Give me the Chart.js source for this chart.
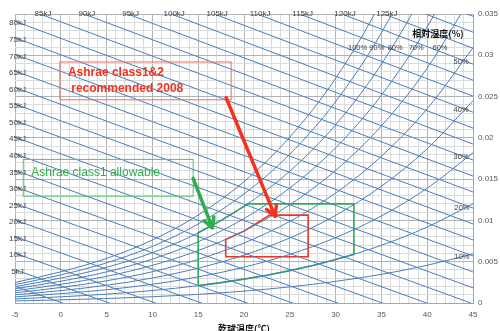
<!DOCTYPE html>
<html lang="ja">
<head>
<meta charset="UTF-8">
<title>Psychrometric chart - Ashrae envelopes</title>
<script src="https://cdn.jsdelivr.net/npm/chart.js"></script>
<style>
  html, body { margin: 0; padding: 0; background: #fff; }
</style>
</head>
<body>
<canvas id="chart" width="500" height="331"></canvas>
<script>
// dry bulb temperatures (x) where the RH curves were read
const temps = [-5, 0, 5, 10, 15, 20, 25, 30, 35, 40, 45];

// humidity ratio (kg/kg) of each relative humidity curve at those temperatures
const rh10  = [0.00025, 0.00038, 0.00054, 0.00076, 0.00105, 0.00144, 0.00195, 0.00262, 0.00347, 0.00457, 0.00595];
const rh20  = [0.00049, 0.00075, 0.00107, 0.00151, 0.00210, 0.00289, 0.00392, 0.00526, 0.00699, 0.00920, 0.01201];
const rh30  = [0.00074, 0.00113, 0.00161, 0.00227, 0.00316, 0.00434, 0.00589, 0.00792, 0.01054, 0.01390, 0.01819];
const rh40  = [0.00099, 0.00150, 0.00215, 0.00303, 0.00422, 0.00580, 0.00788, 0.01061, 0.01414, 0.01868, 0.02449];
const rh50  = [0.00124, 0.00188, 0.00269, 0.00379, 0.00528, 0.00726, 0.00988, 0.01331, 0.01777, 0.02352, 0.03091];
const rh60  = [0.00148, 0.00226, 0.00323, 0.00456, 0.00635, 0.00874, 0.01190, 0.01605, 0.02145, 0.02844, 0.03747];
const rh70  = [0.00173, 0.00264, 0.00377, 0.00532, 0.00742, 0.01022, 0.01393, 0.01880, 0.02517, 0.03344, 0.04416];
const rh80  = [0.00198, 0.00302, 0.00432, 0.00609, 0.00849, 0.01170, 0.01597, 0.02158, 0.02893, 0.03851, 0.05098];
const rh90  = [0.00223, 0.00340, 0.00486, 0.00686, 0.00957, 0.01320, 0.01802, 0.02438, 0.03273, 0.04366, 0.05795];
const rh100 = [0.00248, 0.00378, 0.00540, 0.00763, 0.01065, 0.01470, 0.02009, 0.02721, 0.03659, 0.04889, 0.06506];
const rhCurves = [rh10, rh20, rh30, rh40, rh50, rh60, rh70, rh80, rh90, rh100];

// RH labels and where they sit (temperature, humidity ratio)
const rhLabels = ['100%', '90%', '80%', '70%', '60%', '50%', '40%', '30%', '20%', '10%'];
const rhLabelT = [32.4, 34.5, 36.5, 38.8, 41.4, 43.7, 43.7, 43.7, 43.8, 43.8];
const rhLabelW = [0.0309, 0.0309, 0.0309, 0.0309, 0.0309, 0.0292, 0.0234, 0.0177, 0.0115, 0.0056];

// enthalpy lines (kJ/kg): humidity ratio at the left (-5 C) and right (45 C) edge
const enthalpy = [0, 5, 10, 15, 20, 25, 30, 35, 40, 45, 50, 55, 60, 65, 70, 75, 80,
                  85, 90, 95, 100, 105, 110, 115, 120, 125, 130, 135];
const hLeftW  = [0.00202, 0.00403, 0.00603, 0.00804, 0.01005, 0.01205, 0.01406, 0.01607, 0.01807,
                 0.02008, 0.02209, 0.02409, 0.02610, 0.02810, 0.03011, 0.03212, 0.03412,
                 0.03613, 0.03813, 0.04014, 0.04215, 0.04415, 0.04616, 0.04817, 0.05017, 0.05218, 0.05419, 0.05619];
const hRightW = [-0.01752, -0.01558, -0.01365, -0.01171, -0.00978, -0.00784, -0.00591, -0.00397, -0.00204,
                 -0.00010, 0.00183, 0.00376, 0.00570, 0.00763, 0.00957, 0.01150, 0.01344,
                 0.01537, 0.01731, 0.01924, 0.02118, 0.02311, 0.02505, 0.02698, 0.02892, 0.03085, 0.03279, 0.03472];

// Ashrae class 1 allowable envelope
const allowT = [15, 15, 17.5, 20, 20.4, 32, 32, 30, 27.5, 25, 22.5, 20, 17.5, 15];
const allowW = [0.0021, 0.0085, 0.0100, 0.0117, 0.0120, 0.0120, 0.0059, 0.00526, 0.00454, 0.00392, 0.00337, 0.00289, 0.00247, 0.0021];

// Ashrae class 1&2 recommended 2008 envelope
const recT = [18, 18, 20, 22.8, 27, 27, 18];
const recW = [0.0056, 0.0077, 0.0087, 0.01064, 0.01064, 0.0056, 0.0056];

const blue = '#4a7ebb';
const red = '#f5321e';
const green = '#2fae4a';
const tickFont = { family: '"Liberation Sans", Arial, sans-serif', size: 8 };

const datasets = [];
enthalpy.forEach((h, i) => {
  datasets.push({ data: [{ x: -5, y: hLeftW[i] }, { x: 45, y: hRightW[i] }], borderColor: blue, borderWidth: 1 });
});
rhCurves.forEach(c => {
  datasets.push({ data: temps.map((t, i) => ({ x: t, y: c[i] })), borderColor: blue, borderWidth: 1,
                  cubicInterpolationMode: 'monotone' });
});
datasets.push({ data: allowT.map((t, i) => ({ x: t, y: allowW[i] })), borderColor: green, borderWidth: 1.6 });
datasets.push({ data: recT.map((t, i) => ({ x: t, y: recW[i] })), borderColor: red, borderWidth: 1.6 });

// annotation boxes and arrows, in chart coordinates
const notes = {
  redBox:   { t0: -0.1, t1: 18.6, w0: 0.02919, w1: 0.02461 },
  greenBox: { t0: -4.1, t1: 14.45, w0: 0.01739, w1: 0.01293 },
  redArrow:   { from: [18.05, 0.02486], to: [23.4, 0.0105] },
  greenArrow: { from: [14.45, 0.0151], to: [16.55, 0.0091] }
};

function arrow(ctx, x1, y1, x2, y2, color) {
  const a = Math.atan2(y2 - y1, x2 - x1), L = 11, s = 0.5;
  ctx.strokeStyle = color;
  ctx.lineWidth = 3.5;
  ctx.lineCap = 'round';
  ctx.lineJoin = 'round';
  ctx.beginPath();
  ctx.moveTo(x1, y1);
  ctx.lineTo(x2, y2);
  ctx.moveTo(x2 - L * Math.cos(a - s), y2 - L * Math.sin(a - s));
  ctx.lineTo(x2, y2);
  ctx.lineTo(x2 - L * Math.cos(a + s), y2 - L * Math.sin(a + s));
  ctx.stroke();
}

const overlay = {
  id: 'overlay',
  afterDatasetsDraw(chart) {
    const { ctx, scales: { x, y } } = chart;
    const px = t => x.getPixelForValue(t), py = w => y.getPixelForValue(w);
    ctx.save();

    // enthalpy labels on the left and top edges
    ctx.font = '8px "Liberation Sans", Arial, sans-serif';
    ctx.fillStyle = '#404040';
    ctx.textAlign = 'center';
    ctx.textBaseline = 'middle';
    enthalpy.forEach((h, i) => {
      if (h >= 5 && h <= 80) {
        ctx.fillText(h + 'kJ', px(-5) + 2.5, py(hLeftW[i]) + 2);
      } else if (h >= 85 && h <= 125) {
        const t = -5 + (hLeftW[i] - 0.035) / (hLeftW[i] - hRightW[i]) * 50;
        ctx.fillText(h + 'kJ', px(t) + 3, py(0.035));
      }
    });

    // RH labels
    ctx.font = '7.5px "Liberation Sans", Arial, sans-serif';
    rhLabels.forEach((lab, i) => ctx.fillText(lab, px(rhLabelT[i]), py(rhLabelW[i])));
    ctx.font = 'bold 9px "Noto Sans CJK JP", sans-serif';
    ctx.fillStyle = '#111';
    ctx.fillText('相対湿度(%)', 438, 34);

    // boxes
    const b1 = notes.redBox, b2 = notes.greenBox;
    ctx.lineWidth = 1;
    ctx.strokeStyle = '#f26a5a';
    ctx.strokeRect(px(b1.t0), py(b1.w0), px(b1.t1) - px(b1.t0), py(b1.w1) - py(b1.w0));
    ctx.strokeStyle = '#5cbf6a';
    ctx.strokeRect(px(b2.t0), py(b2.w0), px(b2.t1) - px(b2.t0), py(b2.w1) - py(b2.w0));

    ctx.textAlign = 'left';
    ctx.font = 'bold 12px "Liberation Sans", Arial, sans-serif';
    ctx.fillStyle = red;
    ctx.fillText('Ashrae class1&2', px(b1.t0) + 8, py(b1.w0) + 11);
    ctx.fillText(' recommended 2008', px(b1.t0) + 8, py(b1.w0) + 27);
    ctx.font = '12px "Liberation Sans", Arial, sans-serif';
    ctx.fillStyle = green;
    ctx.fillText('Ashrae class1 allowable', px(b2.t0) + 8, py(b2.w0) + 13);

    const ra = notes.redArrow, ga = notes.greenArrow;
    arrow(ctx, px(ra.from[0]), py(ra.from[1]), px(ra.to[0]), py(ra.to[1]), red);
    arrow(ctx, px(ga.from[0]), py(ga.from[1]), px(ga.to[0]), py(ga.to[1]), green);
    ctx.restore();
  }
};

new Chart(document.getElementById('chart'), {
  type: 'line',
  data: { datasets },
  options: {
    responsive: false,
    animation: false,
    layout: { padding: { left: 15, top: 14, right: 0, bottom: 0 } },
    plugins: { legend: { display: false }, tooltip: { enabled: false } },
    elements: { point: { radius: 0 } },
    scales: {
      x: {
        type: 'linear', min: -5, max: 45,
        ticks: { stepSize: 1, autoSkip: false, maxRotation: 0, padding: 7, font: tickFont, color: '#595959',
                 callback: v => (v % 5 === 0 ? v : '') },
        grid: { drawTicks: false, color: c => (c.tick && c.tick.value % 5 === 0 ? '#b3b3b3' : '#dcdcdc') },
        border: { color: '#a6a6a6' },
        title: { display: true, text: '乾球温度(℃)', color: '#111', padding: { top: 1, bottom: -3 },
                 font: { family: '"Noto Sans CJK JP", sans-serif', size: 9, weight: 'bold' } },
        afterFit: s => { s.height = 28; }
      },
      y: {
        type: 'linear', position: 'right', min: 0, max: 0.035,
        ticks: { stepSize: 0.001, autoSkip: false, padding: 5, font: tickFont, color: '#595959',
                 callback: v => { const k = Math.round(v * 1000); return k % 5 === 0 ? String(k / 1000) : ''; } },
        grid: { drawTicks: false,
                color: c => (c.tick && Math.round(c.tick.value * 1000) % 5 === 0 ? '#b3b3b3' : '#dcdcdc') },
        border: { color: '#a6a6a6' },
        afterFit: s => { s.width = 27; }
      }
    }
  },
  plugins: [overlay]
});
</script>
</body>
</html>
